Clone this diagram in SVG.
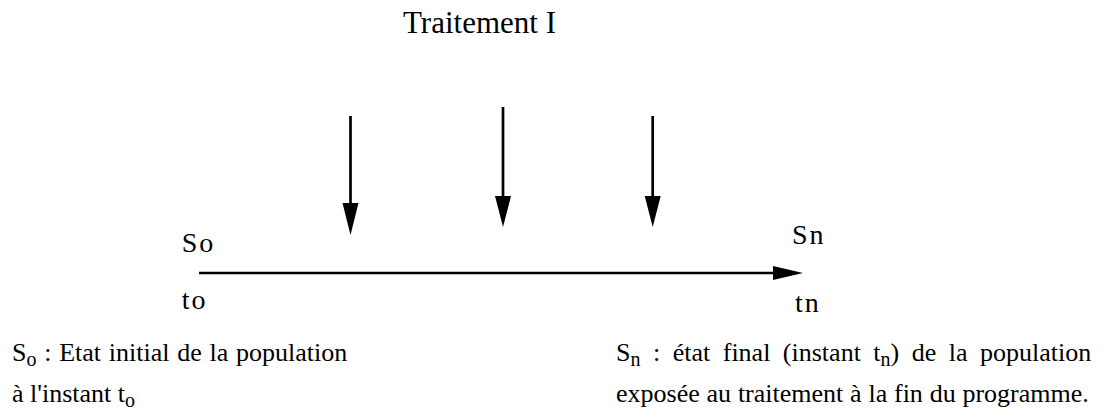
<svg xmlns="http://www.w3.org/2000/svg" width="1114" height="417" viewBox="0 0 1114 417">
<style>
text{font-family:"Liberation Serif","Times New Roman",serif;fill:#000}
.t{font-size:31px}
.lbl{font-size:28px;letter-spacing:2px}
.body{font-size:26px}
.sub{font-size:20px}
.ln{stroke:#000;stroke-width:2.7;fill:none}
.hd{fill:#000;stroke:none}
</style>
<rect width="1114" height="417" fill="#fff"/>
<g id="title"><text class="t" x="403" y="33">Traitement I</text></g>
<g id="connectors">
<line class="ln" x1="350.5" y1="116" x2="350.5" y2="206"/>
<polygon class="hd" points="342.5,203 358.5,203 350.5,235"/>
<line class="ln" x1="503" y1="107" x2="503" y2="199"/>
<polygon class="hd" points="495,196 511,196 503,227"/>
<line class="ln" x1="652.7" y1="116" x2="652.7" y2="199"/>
<polygon class="hd" points="644.7,196 660.7,196 652.7,227"/>
<line class="ln" x1="199" y1="273" x2="776" y2="273"/>
<polygon class="hd" points="773,266 803,273 773,280"/>
</g>
<g id="start"><text class="lbl" x="181.7" y="252">So</text><text class="lbl" x="181.7" y="309">to</text></g>
<g id="end"><text class="lbl" x="792" y="244">Sn</text><text class="lbl" x="795" y="312">tn</text></g>
<g id="legend-left">
<text class="body" x="12" y="361" word-spacing="1.25">S<tspan class="sub" dy="5">o</tspan><tspan dy="-5"> : Etat initial de la population</tspan></text>
<text class="body" x="12" y="402">à l'instant t<tspan class="sub" dy="5">o</tspan></text>
</g>
<g id="legend-right">
<text class="body" x="616" y="361" word-spacing="6">S<tspan class="sub" dy="5">n</tspan><tspan dy="-5"> : état final (instant t</tspan><tspan class="sub" dy="5">n</tspan><tspan dy="-5">) de la population</tspan></text>
<text class="body" x="616" y="402" word-spacing="0.3">exposée au traitement à la fin du programme.</text>
</g>
</svg>
